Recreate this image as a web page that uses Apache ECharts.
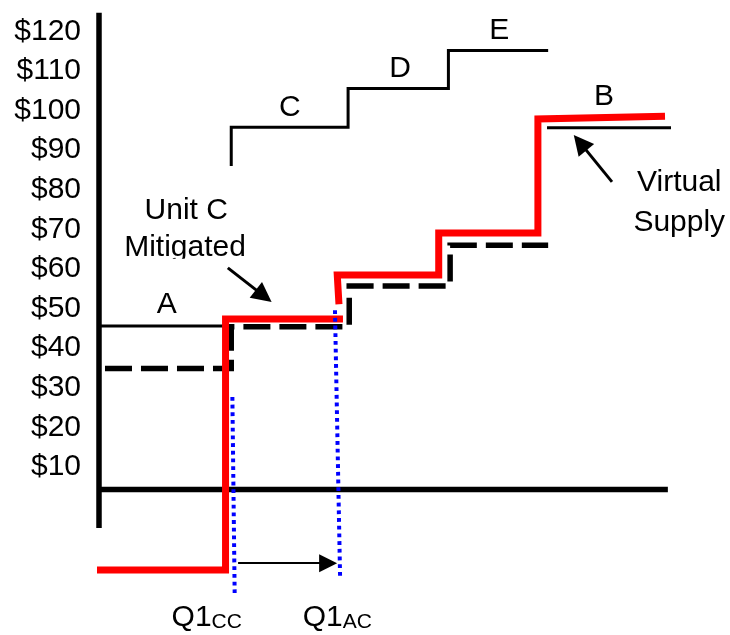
<!DOCTYPE html>
<html><head><meta charset="utf-8">
<script src="https://cdn.jsdelivr.net/npm/echarts@6/dist/echarts.min.js"></script>
<style>html,body{margin:0;padding:0;background:#fff}#c{width:730px;height:635px}</style>
</head><body><div id="c"></div>
<script>
// x = quantity (arbitrary units, 0..100), y = price in $
const yTickLabels = [10, 20, 30, 40, 50, 60, 70, 80, 90, 100, 110, 120];
const priceAxisLine = [[0, -5.4], [0, 124.7]];
const quantityAxisLine = [[0, 4.3], [99.8, 4.3]];
const supplyA = [[0, 45.6], [21.8, 45.6]];
const offersCDE = [[23.2, 86.0], [23.2, 95.8], [43.7, 95.8], [43.7, 105.6], [61.3, 105.6], [61.3, 115.2], [78.8, 115.2]];
const virtualSupply = [[78.6, 95.7], [100.4, 95.7]];
const mitigatedCurve = [[1.05, 34.9], [23.2, 34.9], [23.2, 45.4], [43.9, 45.4], [43.9, 55.7], [61.6, 55.7], [61.6, 66.0], [78.8, 66.0]];
const offerCurveLow = [[-0.35, -16.0], [22.2, -16.0], [22.2, 47.4], [42.8, 47.4]];
const offerCurveHigh = [[42.1, 51.1], [41.8, 58.5], [59.6, 58.5], [59.6, 69.1], [77.0, 69.1], [77.0, 97.9], [99.3, 98.6]];
const q1ccLine = [[23.4, 27.7], [23.8, -21.8]];
const q1acLine = [[41.4, 49.6], [42.3, -18.0]];
const arrowUnitC = [[22.6, 60.3], [28.9, 53.2]];
const arrowVirtual = [[90.0, 82.0], [84.4, 91.9]];
const arrowShift = [[24.4, -14.3], [40.2, -14.3]];
const textLabels = [
  ['A', 11.9, 50.9], ['B', 88.6, 103.4], ['C', 33.5, 100.7], ['D', 52.8, 110.5], ['E', 70.2, 120.1],
  ['Unit C', 15.3, 74.7], ['Mitigated', 15.1, 65.4], ['Virtual', 101.8, 81.7], ['Supply', 101.8, 71.8]
];
const qLabels = [['CC', 18.9, -28.0], ['AC', 41.8, -28.0]];

const FONT = 'Liberation Sans, Arial, sans-serif';
function lineSeries(data, color, width, type, extra) {
  return Object.assign({
    type: 'line', data: data, symbol: 'none', clip: false, silent: true,
    lineStyle: { color: color, width: width, type: type || 'solid', cap: 'butt', join: 'miter' }
  }, extra || {});
}
const txt = { color: '#000', fontFamily: FONT, textBorderWidth: 0, textShadowBlur: 0, opacity: 1 };
const chart = echarts.init(document.getElementById('c'));
chart.setOption({
  animation: false,
  backgroundColor: '#fff',
  grid: { left: 99, right: 61, top: 11.6, bottom: 9.6 },
  xAxis: { type: 'value', min: 0, max: 100, show: false },
  yAxis: {
    type: 'value', min: -30, max: 125, interval: 10,
    axisLine: { show: false }, axisTick: { show: false }, splitLine: { show: false },
    axisLabel: {
      margin: 18, color: '#000', fontSize: 30, fontFamily: FONT,
      formatter: v => yTickLabels.includes(v) ? '$' + v : ''
    }
  },
  series: [
    lineSeries(priceAxisLine, '#000', 5.5),
    lineSeries(quantityAxisLine, '#000', 5.5, 'solid', {
      markArea: { silent: true, z: 10, itemStyle: { color: '#fff' },
        data: [[{ coord: [3, 62.6] }, { coord: [27.5, 60.8] }]] }
    }),
    lineSeries(supplyA, '#000', 3),
    lineSeries(offersCDE, '#000', 3),
    lineSeries(virtualSupply, '#000', 3),
    lineSeries(mitigatedCurve, '#000', 5.5, [27, 9]),
    lineSeries(offerCurveLow, '#ff0000', 7),
    lineSeries(offerCurveHigh, '#ff0000', 7),
    lineSeries(q1ccLine, '#0000ff', 4, [3.8, 3.9]),
    lineSeries(q1acLine, '#0000ff', 4, [3.8, 3.9]),
    {
      type: 'lines', coordinateSystem: 'cartesian2d', silent: true,
      symbol: ['none', 'triangle'], symbolSize: [16, 20],
      lineStyle: { color: '#000', width: 3, opacity: 1 },
      data: [{ coords: arrowUnitC }, { coords: arrowVirtual }]
    },
    {
      type: 'lines', coordinateSystem: 'cartesian2d', silent: true,
      symbol: ['none', 'triangle'], symbolSize: [18, 18],
      lineStyle: { color: '#000', width: 2, opacity: 1 },
      data: [{ coords: arrowShift }]
    },
    {
      type: 'scatter', clip: false, silent: true, symbolSize: 0,
      itemStyle: { color: '#000' },
      data: textLabels.map(t => ({ name: t[0], value: [t[1], t[2]] })),
      label: Object.assign({ show: true, position: 'inside', formatter: p => p.name, fontSize: 30 }, txt)
    },
    {
      type: 'scatter', clip: false, silent: true, symbolSize: 0,
      itemStyle: { color: '#000' },
      data: qLabels.map(t => ({ name: t[0], value: [t[1], t[2]] })),
      label: Object.assign({
        show: true, position: 'inside',
        formatter: p => '{m|Q1}{s|' + p.name + '}',
        rich: {
          m: Object.assign({ fontSize: 30, lineHeight: 30 }, txt),
          s: Object.assign({ fontSize: 21, lineHeight: 16, verticalAlign: 'bottom' }, txt)
        }
      }, txt)
    }
  ]
});
</script></body></html>
